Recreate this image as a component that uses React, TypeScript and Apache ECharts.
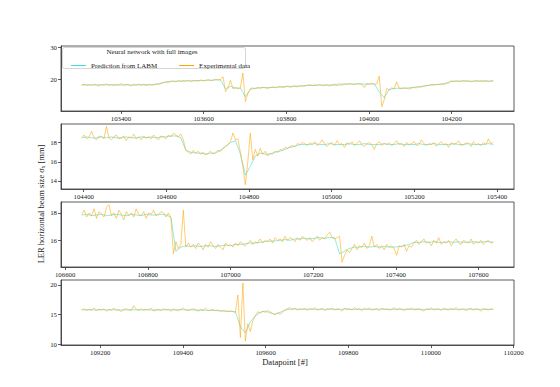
import React, { useEffect, useRef } from "react";
import * as echarts from "echarts";

// Datapoint index of the first sample in each panel, and sampling steps
const panelStarts = [103305, 104395, 106640, 109155];
const expStep = 6;
const predStep = 12;

// Panel 1 (datapoints ~103305-104301)
const exp1 = [
  18.2, 18.4, 18.0, 18.3, 18.1, 18.5, 18.2, 17.9, 18.3, 18.2, 18.6, 18.1, 18.3, 18.0, 18.4, 18.2, 18.7, 18.1, 18.3, 18.2, 17.9, 18.4, 18.2, 18.5, 18.1, 18.3, 18.0, 18.4, 18.3, 18.2, 18.6, 18.4,
  18.6, 18.9, 19.1, 19.0, 19.3,
  19.4, 19.2, 19.6, 19.3, 19.5, 19.4, 19.7, 19.3, 19.5, 19.6, 19.4, 19.8, 19.5, 19.6, 19.9, 19.6, 19.7, 20.0, 19.8, 19.9,
  20.8, 16.1, 17.2, 19.7, 17.0, 17.4, 17.1, 17.3,
  22.0, 13.0, 15.5, 17.1,
  17.3, 17.0, 17.4, 17.2, 17.5, 17.3, 17.1, 17.4, 17.6, 17.3, 17.5, 17.7, 17.4, 17.6, 17.8, 17.5, 17.7, 17.9, 17.6, 18.0, 17.8, 17.9,
  18.1, 18.3, 18.0, 18.2, 18.1, 18.4, 18.0, 18.2, 18.3, 17.9, 18.1, 18.2, 18.0, 18.3, 18.1,
  18.5, 18.4, 18.7, 18.5, 18.3, 18.6, 18.5, 18.4, 17.4, 18.6, 18.5, 18.7, 18.4, 18.6,
  21.0, 11.4, 13.5, 17.1, 16.6, 17.3, 17.0,
  19.2,
  17.2, 17.0, 17.3, 17.1, 16.9, 17.2, 17.4, 17.3, 17.6, 17.5, 17.8, 18.0,
  18.1, 18.3, 18.2, 18.4, 18.3, 18.5, 18.4, 18.6, 18.9,
  19.6, 19.3, 19.5, 19.4, 19.3, 19.6, 19.4, 19.5, 19.2, 19.4, 19.6, 19.3, 19.5, 19.4, 19.7, 19.3, 19.5, 19.4,
];
const pred1 = [
  18.2, 18.3, 18.2, 18.2, 18.3, 18.2, 18.3, 18.2, 18.2, 18.3, 18.2, 18.2, 18.3, 18.3, 18.2, 18.4,
  18.8, 19.2, 19.4,
  19.4, 19.5, 19.5, 19.5, 19.6, 19.6, 19.7, 19.7, 19.8, 19.8,
  17.0, 17.8, 17.2, 17.2, 14.5, 16.8,
  17.2, 17.3, 17.4, 17.4, 17.5, 17.6, 17.7, 17.8, 17.8, 17.9, 18.0,
  18.1, 18.1, 18.2, 18.1, 18.2, 18.4, 18.5, 18.5, 18.5, 18.5, 18.6, 18.5, 18.5, 18.6,
  16.0, 14.2, 16.8,
  17.1, 17.2, 17.2, 17.3, 17.5, 17.7, 17.9,
  18.1, 18.3, 18.4, 18.6,
  19.1, 19.4, 19.4, 19.5, 19.4, 19.4, 19.5, 19.4, 19.4, 19.5,
];

// Panel 2 (datapoints ~104395-105391)
const exp2 = [
  18.5, 18.8, 18.4, 18.6, 19.2, 18.5, 18.3, 18.7, 18.6, 18.4, 19.7, 18.5, 18.3, 18.6, 18.8, 18.4, 18.5, 18.7, 18.2, 18.6, 18.5, 18.9, 18.4, 18.6, 18.3, 18.7, 18.5, 18.6, 18.4, 18.8, 18.5, 18.3, 18.7, 18.6, 18.4, 18.8, 18.6, 19.0,
  18.8, 18.6, 18.9, 18.3, 17.2,
  17.0, 16.8, 17.2, 16.9, 17.1, 16.8, 17.0, 16.7, 16.9, 17.1, 16.8,
  17.0, 17.2, 17.1, 17.4, 17.6, 17.8, 18.1, 19.0, 18.3, 18.4,
  17.0, 15.5, 13.6, 16.0, 19.0, 16.2, 17.3, 16.6, 17.4, 16.8,
  17.1, 16.6, 16.9, 16.8, 17.1, 17.0, 17.3, 17.2, 17.5, 17.4,
  17.6, 17.7, 17.6, 17.9, 17.8, 18.0,
  17.9, 17.7, 18.0, 17.8, 18.1, 17.7, 17.9, 18.3, 17.8, 17.6,
  17.9, 18.0, 17.7, 18.2, 17.8, 17.9, 17.5, 18.0, 17.8, 18.1,
  17.7, 17.9, 18.2, 17.8, 17.6, 17.9, 18.0, 17.8, 17.3, 17.9,
  18.1, 17.7, 17.9, 17.8, 18.0, 17.7, 17.9, 18.2, 17.8, 17.9,
  17.6, 18.0, 17.8, 17.9, 18.1, 17.7, 17.8, 18.3, 17.9, 17.7,
  17.9, 17.8, 18.0, 17.6, 17.9, 18.1, 17.8, 17.9, 17.5, 18.0,
  17.8, 17.9, 18.2, 17.7, 17.8, 18.0, 17.9, 17.6, 18.1, 17.8,
  17.9, 17.7, 18.0, 17.8, 18.4, 17.9, 18.0,
];
const pred2 = [
  18.5, 18.6, 18.5, 18.5, 18.6, 18.5, 18.6, 18.5, 18.5, 18.6, 18.5, 18.5, 18.6, 18.5, 18.6, 18.5, 18.6, 18.6, 18.7, 18.7,
  18.5, 17.2,
  17.0, 16.9, 16.9, 16.8, 16.9, 16.9,
  17.2, 17.6, 18.0, 18.2,
  16.8, 14.6, 15.5, 16.6, 16.9, 16.8,
  16.8, 17.0, 17.1, 17.3, 17.5, 17.6, 17.8,
  17.8, 17.8, 17.9, 17.8, 17.8, 17.9, 17.8, 17.8, 17.8, 17.9, 17.8, 17.8, 17.9, 17.8, 17.8, 17.8, 17.9, 17.8, 17.8, 17.9,
  17.8, 17.8, 17.8, 17.9, 17.8, 17.8, 17.9, 17.8, 17.8, 17.8, 17.9, 17.8, 17.8, 17.9, 17.8, 17.8, 17.8, 17.9, 17.8,
];

// Panel 3 (datapoints ~106640-107636)
const exp3 = [
  17.9, 18.2, 17.7, 18.0, 17.8, 18.3, 17.6, 18.1, 17.9, 17.7, 18.4, 18.6, 17.8, 18.0, 17.6, 18.2, 17.9, 17.5, 18.1, 17.8, 18.0, 17.7, 18.3, 17.9, 17.8, 18.1, 17.6, 18.0, 17.9, 18.2, 17.8, 17.9, 18.1, 18.0, 17.7, 18.0,
  17.6, 15.0, 15.9, 15.4, 15.7, 18.2, 15.5, 15.8,
  15.5, 15.7, 15.4, 15.8, 15.6, 15.3, 15.7, 15.5, 15.9, 15.6, 15.4, 15.7, 15.5, 15.3, 15.8, 15.6, 15.7, 15.5, 15.8, 15.6, 15.9, 15.7, 15.6, 15.8, 16.0, 15.7, 15.9, 15.8, 16.1, 15.8,
  16.0, 15.9, 16.1, 15.8, 16.2, 16.0, 16.1, 15.9, 16.3, 16.0, 16.2, 16.1, 15.9, 16.2, 16.0, 16.3, 16.1, 16.0, 16.2, 15.9, 16.1, 16.3, 16.0, 16.2, 16.1, 16.4, 16.6, 16.2, 16.1,
  16.2, 16.3, 14.4, 14.9, 15.3, 15.1,
  15.4, 15.7, 15.3, 15.6, 15.5, 15.8, 15.4, 15.6, 16.3, 15.5, 15.7, 15.4, 15.6, 15.3, 15.7, 15.5, 15.6, 15.4, 14.9, 15.6, 15.5, 15.7, 15.2, 15.6, 15.5,
  15.8, 16.0, 15.7, 15.9, 16.1, 15.8, 15.9, 15.6, 16.0, 15.8, 16.2, 15.7, 15.9, 15.8, 16.0, 15.6, 15.9, 16.1, 15.8, 15.7, 16.0, 15.9, 15.8, 16.1, 15.7, 15.9, 15.8, 16.0, 15.7, 15.9, 16.0, 15.8, 15.9,
];
const pred3 = [
  17.85, 17.9, 17.8, 17.85, 17.9, 17.8, 17.85, 17.9, 17.85, 17.8, 17.9, 17.85, 17.8, 17.9, 17.85, 17.85, 17.9, 17.85,
  17.7, 15.2, 15.5, 15.6,
  15.55, 15.6, 15.55, 15.6, 15.6, 15.55, 15.6, 15.65, 15.6, 15.7, 15.7, 15.75, 15.8, 15.8, 15.85,
  15.9, 15.95, 15.95, 16.0, 16.05, 16.0, 16.1, 16.1, 16.15, 16.1, 16.15, 16.2, 16.15, 16.2, 16.2,
  15.0, 15.2, 15.4,
  15.5, 15.5, 15.55, 15.5, 15.55, 15.5, 15.55, 15.5, 15.5, 15.55, 15.6, 15.7,
  15.85, 15.85, 15.9, 15.85, 15.9, 15.85, 15.85, 15.9, 15.85, 15.9, 15.85, 15.85, 15.9, 15.85, 15.9, 15.9, 15.85,
];

// Panel 4 (datapoints ~109155-110151)
const exp4 = [
  15.8, 16.0, 15.7, 15.9, 15.8, 16.1, 15.7, 15.9, 15.8, 16.0,
  15.6, 15.9, 15.8, 16.1, 15.7, 15.8, 15.5, 15.9, 16.0, 15.8,
  15.7, 16.5, 15.9, 15.8, 16.0, 15.7, 15.9, 15.8, 16.1, 15.6,
  15.8, 15.9, 15.7, 16.0, 15.8, 15.9, 15.6, 16.0, 15.8, 15.7,
  15.9, 16.1, 15.8, 15.7, 15.9, 16.0, 15.8, 15.6, 15.9, 15.8,
  16.1, 15.7, 15.8, 15.9, 15.7, 15.8, 15.6, 15.7, 15.6, 15.5, 15.6, 15.5,
  15.4, 18.3, 11.2, 20.3, 10.6, 13.5, 12.2, 14.0,
  14.8, 15.5, 15.3, 15.6, 15.4, 15.7, 15.5, 15.2, 15.0, 15.3, 15.1, 15.4, 15.8,
  16.0, 16.2, 15.9, 16.1, 15.8, 16.0, 15.9, 16.1, 15.7, 16.0,
  15.9, 16.2, 15.8, 15.9, 16.1, 15.7, 16.0, 15.9, 16.1, 15.8,
  16.0, 15.9, 15.6, 16.1, 15.9, 16.0, 15.8, 16.2, 15.9, 16.0,
  15.7, 16.0, 15.9, 16.1, 15.8, 15.9, 16.0, 15.7, 16.1, 15.9,
  16.0, 15.8, 15.9, 16.2, 15.8, 16.0, 15.9, 15.7, 16.0, 15.9,
  16.1, 15.8, 15.9, 16.0, 15.8, 15.6, 16.0, 15.9, 16.1, 15.8,
  15.9, 16.0, 15.7, 16.1, 15.9, 15.8, 16.0, 15.9, 16.2, 15.8,
  15.9, 16.0, 15.7, 15.9, 16.1, 15.8, 16.0, 15.9, 15.6, 16.0,
  15.9, 15.8, 16.0, 15.9,
];
const pred4 = [
  15.8, 15.85, 15.8, 15.8, 15.85, 15.8, 15.8, 15.85, 15.8, 15.8, 15.85, 15.8, 15.8, 15.85, 15.8, 15.8, 15.8, 15.85, 15.8, 15.8, 15.85, 15.8, 15.8, 15.8, 15.75, 15.75, 15.7, 15.7, 15.65, 15.6, 15.6,
  15.5, 13.0, 12.0, 13.8, 14.8, 15.4, 15.6, 15.3, 15.1, 15.4, 15.8,
  15.9, 15.95, 15.9, 15.9, 15.95, 15.9, 15.9, 15.9, 15.95, 15.9, 15.9, 15.95, 15.9, 15.9, 15.9, 15.95, 15.9, 15.9, 15.95, 15.9, 15.9,
  15.9, 15.95, 15.9, 15.9, 15.95, 15.9, 15.9, 15.9, 15.95, 15.9, 15.9, 15.95, 15.9, 15.9, 15.9, 15.95, 15.9, 15.9, 15.95, 15.9, 15.9,
];

// Axis ranges and tick labels
const xRanges = [
  [103255, 104351],
  [104345, 105441],
  [106590, 107686],
  [109105, 110201],
];
const yRanges = [
  [10, 30.5],
  [13.15, 19.95],
  [14.05, 18.8],
  [9.95, 20.8],
];
const xTicks = [
  [103400, 103600, 103800, 104000, 104200],
  [104400, 104600, 104800, 105000, 105200, 105400],
  [106600, 106800, 107000, 107200, 107400, 107600],
  [109200, 109400, 109600, 109800, 110000, 110200],
];
const yTicks = [
  [20, 30],
  [14, 16, 18],
  [16, 18],
  [10, 15, 20],
];

const predName = "Prediction from LABM";
const expName = "Experimental data";
const legendTitle = "Neural network with full images";
const xLabel = "Datapoint [#]";
const yLabel = "LER horizontal beam size σₓ [mm]";

const expSeries = [exp1, exp2, exp3, exp4];
const predSeries = [pred1, pred2, pred3, pred4];

const FONT = "'Liberation Serif', 'DejaVu Serif', serif";
const AXIS_COLOR = "#333";
const PRED_COLOR = "#40E0D0";
const EXP_COLOR = "#FFA500";

const gridTops = [46, 124, 202, 280];

export default function App() {
  const ref = useRef<HTMLDivElement>(null);
  useEffect(() => {
    if (!ref.current) return;
    const chart = echarts.init(ref.current, null, { renderer: "svg" });

    const grids = gridTops.map((t) => ({
      left: 61,
      right: 46,
      top: t,
      height: 65,
      show: true,
      borderColor: AXIS_COLOR,
      borderWidth: 0.8,
      backgroundColor: "transparent",
    }));

    const xAxes = xRanges.map((r, k) => ({
      type: "value",
      gridIndex: k,
      min: r[0],
      max: r[1],
      splitLine: { show: false },
      axisLine: { show: true, onZero: false, lineStyle: { color: AXIS_COLOR, width: 0.8 } },
      axisTick: { show: true, customValues: xTicks[k], length: 3, lineStyle: { color: AXIS_COLOR, width: 0.8 } },
      axisLabel: {
        customValues: xTicks[k],
        fontSize: 6.8,
        fontFamily: FONT,
        color: "#222",
        margin: 4,
        formatter: (v: number) => String(v),
      },
    }));

    const yAxes = yRanges.map((r, k) => ({
      type: "value",
      gridIndex: k,
      min: r[0],
      max: r[1],
      splitLine: { show: false },
      axisLine: { show: true, onZero: false, lineStyle: { color: AXIS_COLOR, width: 0.8 } },
      axisTick: { show: true, customValues: yTicks[k], length: 3, lineStyle: { color: AXIS_COLOR, width: 0.8 } },
      axisLabel: {
        customValues: yTicks[k],
        fontSize: 6.8,
        fontFamily: FONT,
        color: "#222",
        margin: 4,
        formatter: (v: number) => String(v),
      },
    }));

    const series: any[] = [];
    for (let k = 0; k < 4; k++) {
      series.push({
        type: "line",
        name: predName,
        xAxisIndex: k,
        yAxisIndex: k,
        showSymbol: false,
        symbol: "none",
        color: PRED_COLOR,
        lineStyle: { color: PRED_COLOR, width: 0.9, opacity: 0.65 },
        data: predSeries[k].map((v, i) => [panelStarts[k] + i * predStep, v]),
        z: 2,
      });
      series.push({
        type: "line",
        name: expName,
        xAxisIndex: k,
        yAxisIndex: k,
        showSymbol: false,
        symbol: "none",
        color: EXP_COLOR,
        lineStyle: { color: EXP_COLOR, width: 0.8, opacity: 0.7 },
        data: expSeries[k].map((v, i) => [panelStarts[k] + i * expStep, v]),
        z: 3,
      });
    }

    chart.setOption({
      animation: false,
      backgroundColor: "#fff",
      grid: grids,
      xAxis: xAxes,
      yAxis: yAxes,
      series,
      legend: {
        data: [predName, expName],
        left: 66,
        top: 57,
        icon: "rect",
        itemWidth: 15,
        itemHeight: 1,
        itemGap: 22,
        z: 20,
        selectedMode: false,
        textStyle: { fontSize: 7, fontFamily: FONT, color: "#222" },
      },
      graphic: [
        {
          type: "rect",
          z: 15,
          shape: { x: 62.5, y: 47.5, width: 183, height: 21, r: 2 },
          style: { fill: "rgba(255,255,255,0.85)", stroke: "#ccc", lineWidth: 0.8 },
        },
        {
          type: "text",
          z: 16,
          x: 152,
          y: 52,
          style: {
            text: legendTitle,
            font: `7px ${FONT}`,
            fill: "#222",
            textAlign: "center",
            textVerticalAlign: "middle",
          },
        },
        {
          type: "text",
          x: 285,
          y: 362,
          style: {
            text: xLabel,
            font: `8.5px ${FONT}`,
            fill: "#222",
            textAlign: "center",
            textVerticalAlign: "middle",
          },
        },
        {
          type: "text",
          x: 41,
          y: 204,
          rotation: Math.PI / 2,
          style: {
            text: yLabel,
            font: `8.5px ${FONT}`,
            fill: "#222",
            textAlign: "center",
            textVerticalAlign: "middle",
          },
        },
      ],
    });
    return () => chart.dispose();
  }, []);
  return (
    <div
      ref={ref}
      style={{ position: "absolute", left: 0, top: 0, width: 560, height: 387, background: "#fff" }}
    />
  );
}
